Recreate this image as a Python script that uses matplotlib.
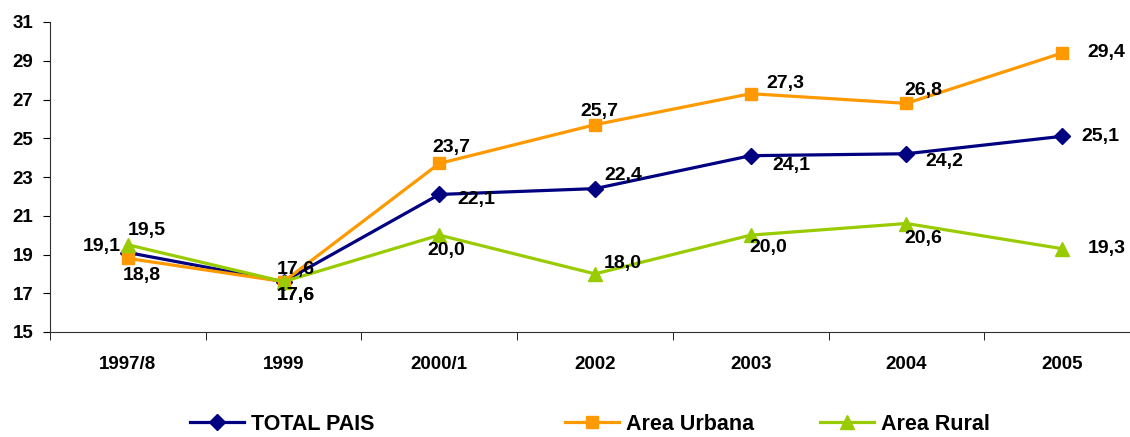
import matplotlib
matplotlib.use("Agg")
import matplotlib.pyplot as plt
import numpy as np

plt.rcParams['font.family'] = ['Liberation Sans', 'DejaVu Sans']
plt.rcParams['font.weight'] = 'bold'

# data
years = ["1997/8", "1999", "2000/1", "2002", "2003", "2004", "2005"]
total_pais = [19.1, 17.6, 22.1, 22.4, 24.1, 24.2, 25.1]
area_urbana = [18.8, 17.6, 23.7, 25.7, 27.3, 26.8, 29.4]
area_rural = [19.5, 17.6, 20.0, 18.0, 20.0, 20.6, 19.3]

# label offsets in pixels (dx, dy up), Excel-like placement
off_total = [(-26, 6), (12, 12), (37, -5), (28, 13), (41, -10), (38, -8), (38, 0)]
off_urbana = [(14, -17), (12, -14), (12, 16), (4, 13), (35, 10), (17, 13), (44, 0)]
off_rural = [(19, 14), (12, -14), (7, -15), (28, 10), (18, -12), (17, -15), (45, 0)]

fig = plt.figure(figsize=(11.30, 4.37), dpi=100)
ax = fig.add_axes([50/1130, 105/437, 1090/1130, 310/437])

x = np.arange(len(years))
series = [
    (total_pais, "TOTAL PAIS", "#000080", "D", 8, off_total),
    (area_urbana, "Area Urbana", "#FF9900", "s", 9, off_urbana),
    (area_rural, "Area Rural", "#99CC00", "^", 10, off_rural),
]

handles = []
for vals, name, col, mk, ms, offs in series:
    h, = ax.plot(x, vals, color=col, lw=2.3, marker=mk, markersize=ms,
                 markeredgecolor=col, label=name, clip_on=False)
    handles.append(h)

for vals, name, col, mk, ms, offs in series:
    for xi, v, (dx, dy) in zip(x, vals, offs):
        ax.annotate(("%.1f" % v).replace(".", ","), (xi, v),
                    xytext=(dx, dy), textcoords="offset pixels",
                    ha="center", va="center", fontsize=14, fontweight="bold")

ax.set_xlim(-0.5, len(years) - 0.5)
ax.set_ylim(15, 31)
ax.set_yticks(np.arange(15, 32, 2))
ax.set_xticks(x)
ax.set_xticklabels(years)
ax.set_xticks(np.arange(-0.5, len(years)), minor=True)
ax.tick_params(axis="x", which="major", length=0, pad=17, labelsize=13.5)
ax.tick_params(axis="x", which="minor", length=6, direction="out")
ax.tick_params(axis="y", length=5, pad=7, labelsize=13.5)
for lab in ax.get_xticklabels() + ax.get_yticklabels():
    lab.set_fontweight("bold")

ax.spines["top"].set_visible(False)
ax.spines["right"].set_visible(False)
ax.spines["left"].set_color("#303030")
ax.spines["bottom"].set_color("#303030")

# legend entries spaced like the original
legend_x = [190, 565, 820]
for h, lx in zip(handles, legend_x):
    fig.legend(handles=[h], loc="center left", bbox_to_anchor=(lx/1130, 13/437),
               frameon=False, fontsize=15.5, handlelength=2.5, handletextpad=0.35,
               borderaxespad=0, borderpad=0)

fig.savefig("out.png", dpi=100)
